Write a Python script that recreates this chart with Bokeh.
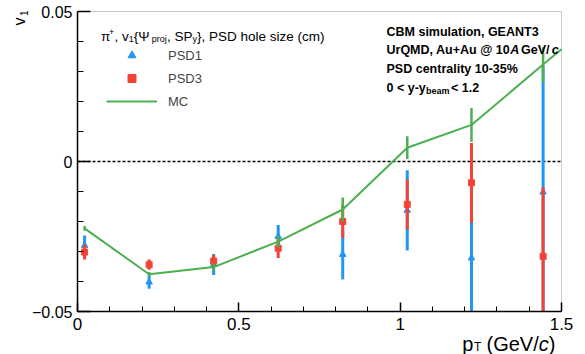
import numpy as np
from bokeh.plotting import figure
from bokeh.models import (ColumnDataSource, Label, Legend, LegendItem,
                          FixedTicker, Range1d, BoxAnnotation)
from bokeh.embed import file_html
from bokeh.resources import INLINE

# ---------------- data ----------------
pt = [0.022, 0.222, 0.422, 0.622, 0.822, 1.022, 1.221, 1.443]
v1_psd1 = [-0.0280, -0.0402, -0.0343, -0.0250, -0.0310, -0.0163, -0.0322, -0.0102]
err_psd1 = [0.0033, 0.0022, 0.0035, 0.0038, 0.0083, 0.0134, 0.0220, 0.0420]
v1_psd3 = [-0.0302, -0.0344, -0.0332, -0.0289, -0.0200, -0.0143, -0.0071, -0.0316]
err_psd3 = [0.0025, 0.0017, 0.0020, 0.0033, 0.0055, 0.0083, 0.0133, 0.0230]
pt_mc = [0.022, 0.222, 0.422, 0.622, 0.822, 1.022, 1.221, 1.443, 1.65]
v1_mc = [-0.0223, -0.0376, -0.0352, -0.0267, -0.0160, 0.0046, 0.0122, 0.0323, 0.0510]
err_mc = [0.0008, 0.0008, 0.0012, 0.0020, 0.0040, 0.0038, 0.0056, 0.0058, 0.0060]

x_major = [0, 0.5, 1, 1.5]
x_minor = [0.1, 0.2, 0.3, 0.4, 0.6, 0.7, 0.8, 0.9, 1.1, 1.2, 1.3, 1.4]
x_labels = ["0", "0.5", "1", "1.5"]
y_major = [-0.05, 0, 0.05]
y_minor = [-0.04, -0.03, -0.02, -0.01, 0.01, 0.02, 0.03, 0.04]
y_labels = ["\u22120.05", "0", "0.05"]

BLUE = "#2196F3"
RED = "#F44336"
GREEN = "#4CAF50"
FONT = "Liberation Sans"

# ---------------- layout (frame in canvas pixels) ----------------
W, H = 585, 354
FL, FR, FT, FB = 77.0, 561.0, 11.0, 311.0
XMIN, XMAX = x_major[0], x_major[-1]
YMIN, YMAX = y_major[0], y_major[-1]
sx = (FR - FL) / (XMAX - XMIN)
sy = (FB - FT) / (YMAX - YMIN)

p = figure(width=W, height=H, output_backend="svg", toolbar_location=None,
           x_range=Range1d(XMIN - FL / sx, XMAX + (W - FR) / sx),
           y_range=Range1d(YMIN - (H - FB) / sy, YMAX + FT / sy),
           min_border=0, min_border_left=0, min_border_right=0,
           min_border_top=0, min_border_bottom=0)
p.xgrid.visible = False
p.ygrid.visible = False
p.background_fill_color = "white"
p.border_fill_color = "white"
p.outline_line_color = None

p.xaxis.fixed_location = YMIN
p.xaxis.bounds = (XMIN, XMAX)
p.yaxis.fixed_location = XMIN
p.yaxis.bounds = (YMIN, YMAX)

for ax, maj, mnr, labs, tin, mtin, fs in (
        (p.xaxis[0], x_major, x_minor, x_labels, 9, 5, "17px"),
        (p.yaxis[0], y_major, y_minor, y_labels, 13, 6, "16px")):
    ax.ticker = FixedTicker(ticks=maj, minor_ticks=mnr)
    ax.major_label_overrides = {t: l for t, l in zip(maj, labs)}
    ax.major_tick_in = tin
    ax.major_tick_out = 0
    ax.minor_tick_in = mtin
    ax.minor_tick_out = 0
    ax.axis_line_color = "black"
    ax.axis_line_width = 1.5
    ax.major_tick_line_width = 1.5
    ax.minor_tick_line_width = 1
    ax.major_label_text_font = FONT
    ax.major_label_text_font_size = fs
    ax.major_label_text_color = "black"
p.xaxis.major_label_standoff = 6
p.yaxis.major_label_standoff = 5

# frame box (top / right sides)
p.add_layout(BoxAnnotation(left=XMIN, right=XMAX, bottom=YMIN, top=YMAX,
                           fill_alpha=0, line_color="#555555", line_width=1,
                           level="underlay"))

# zero line across the frame
p.line(x=[XMIN, XMAX], y=[0, 0], line_color="black", line_width=1.3,
       line_dash="3 2")

# ---------------- data glyphs ----------------
def src(x, y, e):
    x = np.asarray(x, float); y = np.asarray(y, float); e = np.asarray(e, float)
    keep = x <= XMAX
    return ColumnDataSource(dict(x=x[keep], y=y[keep],
                                 lo=np.clip(y - e, YMIN, YMAX)[keep],
                                 hi=np.clip(y + e, YMIN, YMAX)[keep]))

s1 = src(pt, v1_psd1, err_psd1)
s3 = src(pt, v1_psd3, err_psd3)
sm = src(pt_mc, v1_mc, err_mc)

# MC line, cut at the frame edge
xm = np.asarray(pt_mc, float)
ym = np.asarray(v1_mc, float)
xl = np.append(xm[xm <= XMAX], XMAX)
yl = np.append(ym[xm <= XMAX], np.interp(XMAX, xm, ym))

p.segment(x0="x", y0="lo", x1="x", y1="hi", source=s1, line_color=BLUE, line_width=3)
r1 = p.scatter("x", "y", source=s1, marker="triangle", size=6.5,
               fill_color=BLUE, line_color=BLUE)
p.segment(x0="x", y0="lo", x1="x", y1="hi", source=s3, line_color=RED, line_width=3)
r3 = p.scatter("x", "y", source=s3, marker="square", size=6,
               fill_color=RED, line_color=RED)
p.segment(x0="x", y0="lo", x1="x", y1="hi", source=sm, line_color=GREEN, line_width=2.5)
rm = p.line(xl, yl, line_color=GREEN, line_width=2)

legend = Legend(items=[LegendItem(label="PSD1", renderers=[r1]),
                       LegendItem(label="PSD3", renderers=[r3]),
                       LegendItem(label="MC", renderers=[rm])],
                location=(106, 243), orientation="vertical", padding=0, margin=0,
                spacing=3, glyph_width=51, glyph_height=20, label_height=20,
                label_standoff=11, label_text_font=FONT,
                label_text_font_size="13px", border_line_alpha=0,
                background_fill_alpha=0)
p.add_layout(legend)

# ---------------- texts ----------------
def dx(px):
    return XMIN + (px - FL) / sx

def dy(py):
    return YMAX - (py - FT) / sy

def lab(text, px, py, size, style="normal", angle=0):
    p.add_layout(Label(x=dx(px), y=dy(py), text=text, text_font=FONT,
                       text_font_size=f"{size}px", text_font_style=style,
                       text_color="black", text_align="left",
                       text_baseline="alphabetic", angle=angle))

# legend header
hb, sup_b, sub_b = 35.5, 31.0, 38.5
lab("\u03c0", 100.5, hb, 13.5)
lab("+", 108.5, sup_b, 9)
lab(", v", 114.0, hb, 13.5)
lab("1", 128.3, sub_b, 9)
lab(" {\u03a8", 133.3, hb, 13.5)
lab("proj", 151.3, sub_b, 9)
lab(", SP", 166.5, hb, 13.5)
lab("y", 192.0, sub_b, 9)
lab("}, PSD hole size (cm)", 196.5, hb, 13.5)

# right block
lab("CBM simulation, GEANT3", 386, 31, 12.5, "bold")
lab("UrQMD, Au+Au @ 10", 386, 49.5, 12.5, "bold")
lab("A", 509.7, 49.5, 12.5, "bold italic")
lab(" GeV/", 520.5, 49.5, 12.5, "bold")
lab("c", 551.2, 49.5, 12.5, "bold italic")
lab("PSD centrality 10-35%", 386, 68, 12.5, "bold")
lab("0 < y-y", 386, 87, 12.5, "bold")
lab("beam", 425.5, 90.5, 9, "bold")
lab(" < 1.2", 450.5, 87, 12.5, "bold")

# axis titles
lab("p", 461.7, 343, 20)
lab("T", 473.5, 346.5, 12)
lab("(GeV/", 486, 343, 20)
lab("c", 538.2, 343, 20, "italic")
lab(")", 548.2, 343, 20)

# rotated y title (rotated text is anchored near its middle)
lab("v", 19.2, 25, 16, angle=np.pi / 2)
lab("1", 23.8, 15.5, 10, angle=np.pi / 2)

open("out.html", "w").write(file_html(p, INLINE))
